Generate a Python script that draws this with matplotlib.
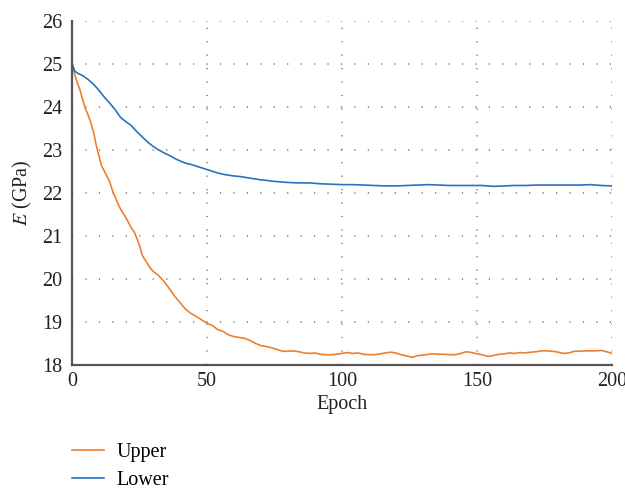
import matplotlib.pyplot as plt

plt.rcParams['font.family'] = ['Liberation Serif', 'DejaVu Serif']
plt.rcParams['mathtext.fontset'] = 'stix'

# Upper curve
upper_epoch = [0, 1, 2, 3, 4, 5, 6, 7, 8, 9, 10, 11, 12, 13, 14, 15, 16, 17, 18, 19,
               20, 21, 22, 23, 24, 25, 26, 27, 28, 29, 30, 32, 34, 36, 38, 40, 42, 44, 46, 48,
               50, 52, 54, 56, 58, 60, 62, 64, 66, 68, 70, 72, 74, 76, 78, 80, 82, 84, 86, 88,
               90, 92, 94, 96, 98, 100, 102, 104, 106, 108, 110, 112, 114, 116, 118, 120, 122, 124, 126, 128,
               130, 132, 134, 136, 138, 140, 142, 144, 146, 148, 150, 152, 154, 156, 158, 160, 162, 164, 166, 168,
               170, 172, 174, 176, 178, 180, 182, 184, 186, 188, 190, 192, 194, 196, 198, 200]
upper_e = [25.0, 24.75, 24.55, 24.38, 24.15, 23.95, 23.8, 23.62, 23.4, 23.1, 22.85, 22.62, 22.5, 22.38, 22.25, 22.05, 21.9, 21.75, 21.62, 21.52,
           21.42, 21.3, 21.18, 21.1, 20.95, 20.78, 20.55, 20.45, 20.35, 20.25, 20.18, 20.08, 19.95, 19.78, 19.6, 19.45, 19.3, 19.2, 19.13, 19.05,
           18.97, 18.92, 18.82, 18.78, 18.7, 18.66, 18.64, 18.62, 18.57, 18.5, 18.45, 18.43, 18.4, 18.36, 18.32, 18.32, 18.33, 18.31, 18.28, 18.27,
           18.28, 18.25, 18.24, 18.24, 18.25, 18.27, 18.29, 18.27, 18.28, 18.25, 18.24, 18.24, 18.26, 18.28, 18.30, 18.28, 18.24, 18.21, 18.18, 18.22,
           18.23, 18.25, 18.26, 18.25, 18.25, 18.24, 18.24, 18.27, 18.31, 18.29, 18.26, 18.24, 18.20, 18.22, 18.25, 18.26, 18.28, 18.27, 18.29, 18.28,
           18.30, 18.31, 18.33, 18.33, 18.32, 18.30, 18.27, 18.28, 18.32, 18.32, 18.33, 18.33, 18.33, 18.34, 18.31, 18.27]

# Lower curve
lower_epoch = [0, 1, 2, 4, 6, 8, 10, 12, 14, 16, 18, 20, 22, 24, 26, 28, 30, 32, 34, 36,
               38, 40, 42, 44, 46, 48, 50, 52, 54, 56, 58, 60, 62, 64, 66, 68, 70, 72, 74, 76,
               78, 80, 84, 88, 92, 96, 100, 104, 108, 112, 116, 120, 124, 128, 132, 136, 140, 144, 148, 152,
               156, 160, 164, 168, 172, 176, 180, 184, 188, 192, 196, 200]
lower_e = [25.0, 24.83, 24.78, 24.72, 24.63, 24.52, 24.38, 24.22, 24.08, 23.93, 23.75, 23.65, 23.56, 23.42, 23.3, 23.18, 23.08, 23.0, 22.93, 22.87,
           22.8, 22.74, 22.69, 22.66, 22.62, 22.58, 22.54, 22.5, 22.46, 22.43, 22.41, 22.39, 22.38, 22.36, 22.34, 22.32, 22.3, 22.29, 22.27, 22.26,
           22.25, 22.24, 22.23, 22.23, 22.21, 22.2, 22.19, 22.19, 22.18, 22.17, 22.16, 22.16, 22.17, 22.18, 22.19, 22.18, 22.17, 22.17, 22.17, 22.17,
           22.15, 22.16, 22.17, 22.17, 22.18, 22.18, 22.18, 22.18, 22.18, 22.19, 22.17, 22.16]

fig = plt.figure(figsize=(6.25, 4.9), dpi=100)
ax = fig.add_axes([0.1152, 0.255, 0.864, 0.703])

l1, = ax.plot(upper_epoch, upper_e, color='#f07f2c', lw=1.2, label='Upper')
l2, = ax.plot(lower_epoch, lower_e, color='#2a72c0', lw=1.2, label='Lower')

ax.set_xlim(0, 200)
ax.set_ylim(18, 26)
ax.set_xticks([0, 50, 100, 150, 200])
ax.set_yticks(range(18, 27))

ax.grid(True, color='#777777', linestyle=(0, (0.8, 8)), linewidth=1.1)
for s in ['top', 'right']:
    ax.spines[s].set_visible(False)
for s in ['left', 'bottom']:
    ax.spines[s].set_color('#555555')
    ax.spines[s].set_linewidth(1.6)
ax.tick_params(length=0, labelsize=14.5, colors='#222222')
ax.tick_params(axis='y', pad=7)
ax.tick_params(axis='x', pad=5)

ax.set_xlabel('Epoch', fontsize=14.5, color='#222222', labelpad=3)
ax.set_ylabel(r'$E$ (GPa)', fontsize=14.5, color='#222222', labelpad=6)

fig.legend(handles=[l1, l2], loc='upper left', bbox_to_anchor=(0.1152, 0.096),
           frameon=False, fontsize=14.5, handlelength=1.6, handletextpad=0.6,
           labelspacing=0.45, borderpad=0, borderaxespad=0)

fig.savefig('out.png', dpi=100)
